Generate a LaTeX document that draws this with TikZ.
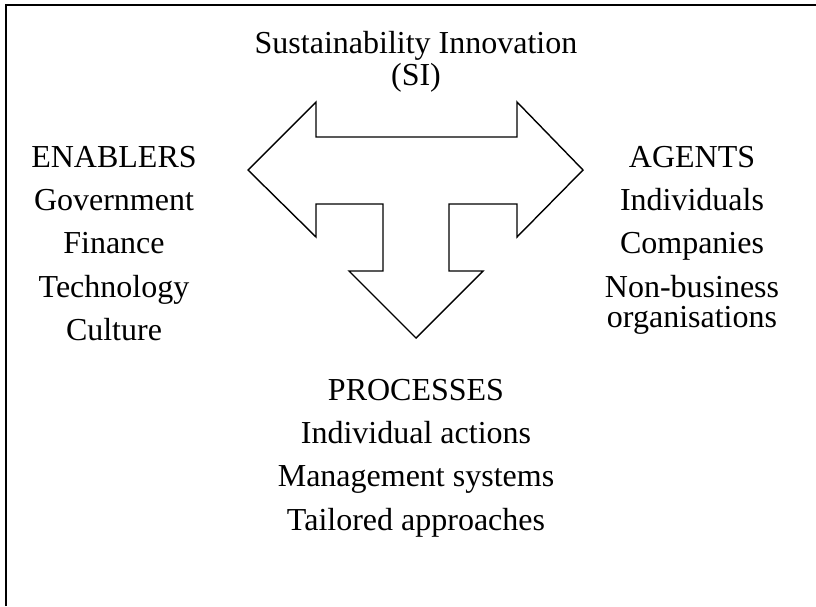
\documentclass[tikz,border=0pt]{standalone}
\usepackage{fontspec}
\setmainfont{Liberation Serif}
\begin{document}
\begin{tikzpicture}[x=1pt,y=-1pt,
  lbl/.style={anchor=base,inner sep=0pt,font=\fontsize{32}{34}\selectfont},
  frameline/.style={line width=1.8pt,black},
  arrowshape/.style={draw=black,line width=1.4pt,line join=miter,fill=white}]
\useasboundingbox (0,0) rectangle (816,606);
% frame (left and top edges only)
\draw[frameline] (6,606) -- (6,5) -- (816,5);
% three-way arrow
\draw[arrowshape] (248,170) -- (316,102) -- (316,137) -- (517,137) -- (517,102)
  -- (583,170) -- (517,237) -- (517,204) -- (449,204) -- (449,271) -- (483,271)
  -- (416,338) -- (349,271) -- (383,271) -- (383,204) -- (316,204) -- (316,237) -- cycle;
% title
\node[lbl] (t1) at (416,53) {Sustainability Innovation};
\node[lbl] (t2) at (416,85) {(SI)};
% enablers
\node[lbl] (e0) at (114,167) {ENABLERS};
\node[lbl] (e1) at (114,210) {Government};
\node[lbl] (e2) at (114,253) {Finance};
\node[lbl] (e3) at (114,297) {Technology};
\node[lbl] (e4) at (114,340) {Culture};
% agents
\node[lbl] (a0) at (692,167) {AGENTS};
\node[lbl] (a1) at (692,210) {Individuals};
\node[lbl] (a2) at (692,253) {Companies};
\node[lbl] (a3) at (692,297) {Non-business};
\node[lbl] (a4) at (692,327) {organisations};
% processes
\node[lbl] (p0) at (416,400) {PROCESSES};
\node[lbl] (p1) at (416,443) {Individual actions};
\node[lbl] (p2) at (416,486) {Management systems};
\node[lbl] (p3) at (416,530) {Tailored approaches};
\end{tikzpicture}
\end{document}
